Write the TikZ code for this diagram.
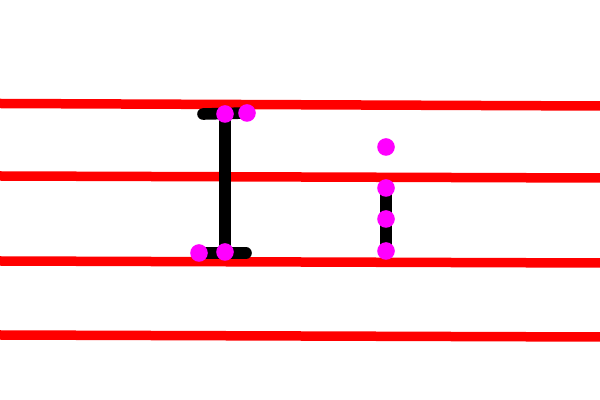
\documentclass[tikz,border=0pt]{standalone}
\definecolor{dotmag}{RGB}{255,0,255}
\definecolor{guidered}{RGB}{255,0,0}
\begin{document}
\begin{tikzpicture}[x=0.5pt,y=-0.5pt,
  guide/.style={guidered,line width=4.75pt},
  stroke/.style={black,line width=5.8pt,line cap=round},
  dotcol/.style={fill=dotmag}]
  \useasboundingbox (0,0) rectangle (600,400);
  \clip (0,0) rectangle (600,400);
  \foreach \yl/\yr in {103.5/106,176/178,261/263,335/337} {
    \draw[guide] (0,\yl) -- (600,\yr);
  }
  % capital I
  \coordinate (a) at (203,114);
  \coordinate (b) at (247,113);
  \coordinate (c) at (225,114);
  \coordinate (d) at (225,252);
  \coordinate (e) at (199,253);
  \coordinate (f) at (246,253);
  \draw[stroke] (a) -- (b);
  \draw[stroke] (c) -- (d);
  \draw[stroke] (e) -- (f);
  \fill[dotcol] (c) circle (4.4pt);
  \fill[dotcol] (b) circle (4.4pt);
  \fill[dotcol] (e) circle (4.4pt);
  \fill[dotcol] (d) circle (4.4pt);
  % small i
  \coordinate (p) at (386,147);
  \coordinate (q) at (386,188);
  \coordinate (r) at (386,219);
  \coordinate (s) at (386,251);
  \draw[stroke,line cap=butt] (q) -- (s);
  \foreach \pt in {p,q,r,s} {
    \fill[dotcol] (\pt) circle (4.4pt);
  }
\end{tikzpicture}
\end{document}
